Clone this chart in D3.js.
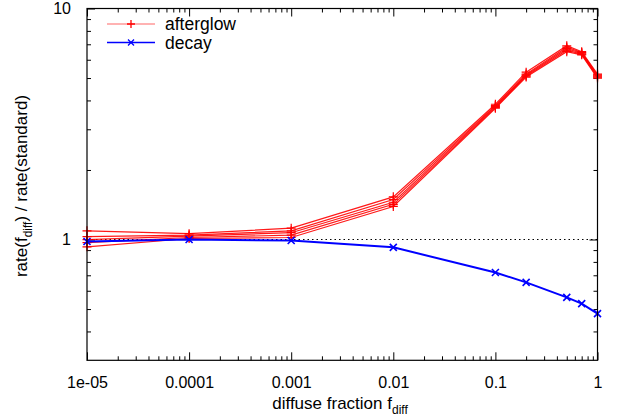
<!DOCTYPE html>
<html>
<head>
<meta charset="utf-8">
<script src="https://cdn.jsdelivr.net/npm/d3@7"></script>
<style>
  html, body { margin: 0; padding: 0; background: #fff; }
  svg { display: block; font-family: "Liberation Sans", Arial, Helvetica, sans-serif; }
</style>
</head>
<body>
<svg id="chart" width="623" height="417"></svg>
<script>
// ---- data ----
const fdiff = [1e-5, 1e-4, 1e-3, 1e-2, 0.1, 0.2, 0.5, 0.7, 1.0];
const afterglowA = [1.09, 1.06, 1.12, 1.53, 3.85, 5.30, 6.90, 6.50, 5.20];
const afterglowB = [1.03, 1.045, 1.09, 1.49, 3.80, 5.20, 6.80, 6.45, 5.15];
const afterglowC = [0.998, 1.035, 1.07, 1.45, 3.77, 5.15, 6.70, 6.40, 5.10];
const afterglowD = [0.97, 1.02, 1.045, 1.42, 3.73, 5.10, 6.60, 6.35, 5.05];
const afterglowE = [0.93, 1.01, 1.02, 1.39, 3.70, 5.05, 6.50, 6.30, 5.00];
const decay = [0.98, 1.0, 0.99, 0.925, 0.72, 0.652, 0.562, 0.528, 0.478];
const xTickValues = [1e-5, 1e-4, 1e-3, 1e-2, 0.1, 1];
const xTickLabels = ["1e-05", "0.0001", "0.001", "0.01", "0.1", "1"];
const yTickValues = [1, 10];
const yTickLabels = ["1", "10"];
const legendNames = ["afterglow", "decay"];

const afterglowSeries = [afterglowA, afterglowB, afterglowC, afterglowD, afterglowE];

// ---- layout ----
const svg = d3.select("#chart");
const L = 87, R = 597.5, T = 8.5, B = 360.3;
const x = d3.scaleLog().domain([1e-5, 1]).range([L, R]);
const y = d3.scaleLog().domain([0.3, 10]).range([B, T]);

// minor ticks
const xMinor = [];
for (let e = -5; e < 0; e++) for (let k = 2; k <= 9; k++) xMinor.push(k * Math.pow(10, e));
const yMinor = [];
[0.4,0.5,0.6,0.7,0.8,0.9].forEach(v => yMinor.push(v));
for (let k = 2; k <= 9; k++) yMinor.push(k);

const g = svg.append("g");
const tickColor = "#000";
const FONT = "'Liberation Sans', Arial, sans-serif";

// reference dotted line at 1
g.append("line")
  .attr("x1", L).attr("x2", R).attr("y1", y(1)).attr("y2", y(1))
  .attr("stroke", "#000").attr("stroke-width", 1).attr("stroke-dasharray", "1.5,3");

function styleAxis(sel) {
  sel.select(".domain").remove();
  sel.selectAll(".tick line").attr("stroke", tickColor).attr("stroke-width", 1);
}
const xAxisB = d3.axisBottom(x).tickValues(xTickValues)
  .tickFormat((d, i) => xTickLabels[i]).tickSize(-8).tickPadding(16);
g.append("g").attr("transform", `translate(0,${B})`).call(xAxisB).call(styleAxis)
  .selectAll("text").attr("font-size", 16).attr("fill", "#000").attr("font-family", FONT);
g.append("g").attr("transform", `translate(0,${B})`)
  .call(d3.axisBottom(x).tickValues(xMinor).tickFormat("").tickSize(-4)).call(styleAxis);
g.append("g").attr("transform", `translate(0,${T})`)
  .call(d3.axisTop(x).tickValues(xTickValues).tickFormat("").tickSize(-8)).call(styleAxis);
g.append("g").attr("transform", `translate(0,${T})`)
  .call(d3.axisTop(x).tickValues(xMinor).tickFormat("").tickSize(-4)).call(styleAxis);
const yAxisL = d3.axisLeft(y).tickValues(yTickValues)
  .tickFormat((d, i) => yTickLabels[i]).tickSize(-8).tickPadding(16);
g.append("g").attr("transform", `translate(${L},0)`).call(yAxisL).call(styleAxis)
  .selectAll("text").attr("font-size", 16).attr("fill", "#000").attr("font-family", FONT);
g.append("g").attr("transform", `translate(${L},0)`)
  .call(d3.axisLeft(y).tickValues(yMinor).tickFormat("").tickSize(-4)).call(styleAxis);
g.append("g").attr("transform", `translate(${R},0)`)
  .call(d3.axisRight(y).tickValues(yTickValues).tickFormat("").tickSize(-8)).call(styleAxis);
g.append("g").attr("transform", `translate(${R},0)`)
  .call(d3.axisRight(y).tickValues(yMinor).tickFormat("").tickSize(-4)).call(styleAxis);

// lines
const lineGen = d3.line().x((d, i) => x(fdiff[i])).y(d => y(d));

afterglowSeries.forEach(s => {
  g.append("path").datum(s).attr("d", lineGen)
    .attr("fill", "none").attr("stroke", "#ff0000").attr("stroke-width", 1.2)
    .attr("stroke-opacity", 0.9);
  g.selectAll(null).data(s).enter().append("path")
    .attr("d", (d, i) => {
      const cx = x(fdiff[i]), cy = y(d), r = 4.5;
      return `M${cx - r},${cy}H${cx + r}M${cx},${cy - r}V${cy + r}`;
    })
    .attr("stroke", "#ff0000").attr("stroke-width", 1.2).attr("fill", "none");
});

g.append("path").datum(decay).attr("d", lineGen)
  .attr("fill", "none").attr("stroke", "#0000ff").attr("stroke-width", 2);
g.selectAll(null).data(decay).enter().append("path")
  .attr("d", (d, i) => {
    const cx = x(fdiff[i]), cy = y(d), r = 3.5;
    return `M${cx - r},${cy - r}L${cx + r},${cy + r}M${cx - r},${cy + r}L${cx + r},${cy - r}`;
  })
  .attr("stroke", "#0000ff").attr("stroke-width", 1.6).attr("fill", "none");

// frame
g.append("rect").attr("x", L).attr("y", T).attr("width", R - L).attr("height", B - T)
  .attr("fill", "none").attr("stroke", "#000").attr("stroke-width", 1.2);

// legend
const legColors = ["#ff0000", "#0000ff"];
const legY = [24, 42.5];
legendNames.forEach((name, i) => {
  const ly = legY[i];
  g.append("line").attr("x1", 107).attr("x2", 155).attr("y1", ly).attr("y2", ly)
    .attr("stroke", legColors[i]).attr("stroke-width", i === 0 ? 1.2 : 1.5)
    .attr("stroke-opacity", i === 0 ? 0.6 : 1);
  const cx = 131, r = i === 0 ? 4 : 3;
  g.append("path").attr("d", i === 0
      ? `M${cx - r},${ly}H${cx + r}M${cx},${ly - r}V${ly + r}`
      : `M${cx - r},${ly - r}L${cx + r},${ly + r}M${cx - r},${ly + r}L${cx + r},${ly - r}`)
    .attr("stroke", legColors[i]).attr("stroke-width", 1.3).attr("fill", "none");
  g.append("text").attr("x", 165).attr("y", ly + 6).attr("font-size", 17.5)
    .attr("fill", "#000").text(name);
});

// axis titles
const xt = g.append("text").attr("x", 340).attr("y", 409).attr("text-anchor", "middle")
  .attr("font-size", 17).attr("fill", "#000");
xt.append("tspan").text("diffuse fraction f");
xt.append("tspan").attr("dy", 5).attr("font-size", 12).text("diff");

const yt = g.append("text").attr("transform", "translate(27,186) rotate(-90)")
  .attr("text-anchor", "middle").attr("font-size", 17).attr("fill", "#000");
yt.append("tspan").text("rate(f");
yt.append("tspan").attr("dy", 5).attr("font-size", 12).text("diff");
yt.append("tspan").attr("dy", -5).text(")  /  rate(standard)");
</script>
</body>
</html>
